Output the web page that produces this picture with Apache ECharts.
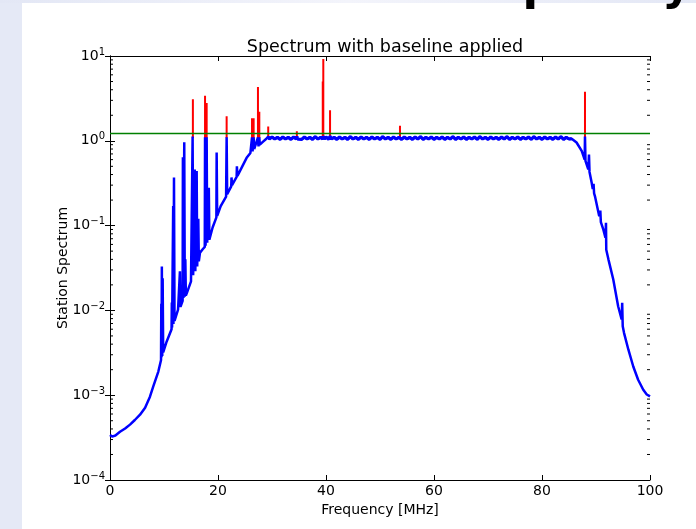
<!DOCTYPE html>
<html><head><meta charset="utf-8">
<script src="https://cdn.jsdelivr.net/npm/echarts@6/dist/echarts.min.js"></script>
<style>html,body{margin:0;padding:0;background:#fff}#c{width:696px;height:529px}</style>
</head><body><div id="c"></div><script>
// ---- data ----
const xTicks = [0, 20, 40, 60, 80, 100];
const yExponents = [-4, -3, -2, -1, 0, 1];
const threshold = 1.22;

const blueFreq = [
 0, 0.4, 1.0, 1.85, 2.8, 3.7, 4.6, 5.56, 6.5, 7.4, 8.0, 8.95, 9.45, 9.5, 9.55, 9.6, 9.68, 9.75, 9.85,
 10.5, 11.4, 11.45, 11.5, 11.7, 11.75, 11.85, 11.95, 12.6, 12.95, 13.05, 13.45, 13.5, 13.6, 13.75, 13.85,
 13.95, 14.05, 14.26, 15.0, 15.3, 15.4, 15.7, 15.8, 16.05, 16.15, 16.35, 16.45, 16.67, 17.2, 17.55, 17.6,
 17.7, 17.9, 18.0, 18.3, 18.4, 19.0, 19.7, 19.75, 19.85, 20.5, 21.5, 21.6, 21.7, 22.45, 22.5, 22.6, 23.45,
 23.5, 23.6, 24.5, 25.3, 26.0, 26.3, 26.4, 26.6, 26.7, 27.0, 27.4, 27.5, 27.65, 27.75, 28.3, 28.9, 29.3,
 29.5, 30.0, 30.5, 31.0, 31.5, 32.0, 32.5, 33.0, 33.5, 34.0, 34.5, 34.6, 34.7, 35.0, 35.5, 36.0, 36.5,
 37.0, 37.5, 38.0, 38.5, 39.0, 39.4, 39.5, 39.7, 40.0, 40.5, 40.75, 41.0, 41.5, 42.0, 42.5, 43.0, 43.5,
 44.0, 44.5, 45.0, 45.5, 46.0, 46.5, 47.0, 47.5, 48.0, 48.5, 49.0, 49.5, 50.0, 50.5, 51.0, 51.5, 52.0,
 52.5, 53.0, 53.5, 53.7, 54.0, 54.5, 55.0, 55.5, 56.0, 56.5, 57.0, 57.5, 58.0, 58.5, 59.0, 59.5, 60.0,
 60.5, 61.0, 61.5, 62.0, 62.5, 63.0, 63.5, 64.0, 64.5, 65.0, 65.5, 66.0, 66.5, 67.0, 67.5, 68.0, 68.5,
 69.0, 69.5, 70.0, 70.5, 71.0, 71.5, 72.0, 72.5, 73.0, 73.5, 74.0, 74.5, 75.0, 75.5, 76.0, 76.5, 77.0,
 77.5, 78.0, 78.5, 79.0, 79.5, 80.0, 80.5, 81.0, 81.5, 82.0, 82.5, 83.0, 83.5, 84.0, 84.5, 85.0, 85.5,
 86.4, 87.35, 87.9, 87.96, 88.05, 88.57, 88.7, 88.8, 89.2, 89.4, 89.55, 89.65, 89.8, 90.6, 90.8, 90.9,
 91.35, 91.75, 91.85, 91.9, 92.3, 93.2, 94.1, 94.75, 94.85, 94.95, 95.2, 96.0, 96.9, 97.8, 98.75, 99.4, 100
];
const blueVals = [
 3.4e-4, 3.25e-4, 3.35e-4, 3.7e-4, 4.05e-4, 4.5e-4, 5.1e-4, 5.9e-4, 7.1e-4, 9.6e-4, 1.26e-3, 1.9e-3, 2.6e-3, 0.012, 2.8e-3, 0.033, 2.9e-3, 0.024, 3.2e-3,
 4.3e-3, 6.0e-3, 0.0124, 6.3e-3, 0.17, 6.9e-3, 0.37, 7.5e-3, 0.0102, 0.029, 0.011, 0.013, 0.64, 0.014, 0.96, 0.0145,
 0.04, 0.015, 0.0162, 0.022, 1.12, 0.026, 0.46, 0.029, 0.44, 0.033, 0.12, 0.038, 0.048, 0.053, 0.056, 1.1,
 0.058, 1.1, 0.063, 0.28, 0.068, 0.095, 0.125, 0.73, 0.13, 0.17, 0.22, 1.1, 0.235, 0.29, 0.37, 0.3, 0.375,
 0.5, 0.385, 0.5, 0.63, 0.72, 1.1, 0.75, 1.1, 0.8, 0.83, 1.1, 0.86, 1.1, 0.9, 0.97, 1.05, 1.12,
 1.05, 1.11, 1.05, 1.10, 1.04, 1.11, 1.05, 1.10, 1.04, 1.11, 1.05, 1.13, 1.05, 1.10, 1.04, 1.11, 1.05,
 1.10, 1.04, 1.12, 1.05, 1.10, 1.05, 1.13, 1.05, 1.11, 1.04, 1.13, 1.05, 1.10, 1.04, 1.11, 1.05, 1.10,
 1.04, 1.12, 1.05, 1.10, 1.04, 1.11, 1.05, 1.10, 1.04, 1.11, 1.05, 1.10, 1.04, 1.12, 1.05, 1.10, 1.04,
 1.11, 1.05, 1.10, 1.13, 1.04, 1.11, 1.05, 1.10, 1.04, 1.11, 1.05, 1.12, 1.04, 1.10, 1.05, 1.11, 1.04,
 1.10, 1.05, 1.11, 1.04, 1.10, 1.05, 1.12, 1.04, 1.10, 1.05, 1.11, 1.04, 1.10, 1.05, 1.11, 1.04, 1.12,
 1.05, 1.10, 1.04, 1.11, 1.05, 1.10, 1.04, 1.11, 1.05, 1.12, 1.04, 1.10, 1.05, 1.11, 1.04, 1.10, 1.05,
 1.11, 1.04, 1.12, 1.05, 1.10, 1.04, 1.11, 1.05, 1.10, 1.04, 1.11, 1.05, 1.12, 1.04, 1.10, 1.05, 1.06,
 0.955, 0.76, 0.6, 1.12, 0.58, 0.46, 0.69, 0.43, 0.32, 0.27, 0.31, 0.24, 0.223, 0.129, 0.15, 0.11,
 0.09, 0.072, 0.108, 0.052, 0.040, 0.0231, 0.0112, 0.0078, 0.0123, 0.0065, 0.0054, 0.00344, 0.00218, 0.00152, 0.00116, 0.00102, 0.00097
];
// frequency range of the noisy flat plateau (drawn with a thicker stroke)
const plateauRange = [29.3, 85.5];

// red: original spectrum peaks that exceed the clipped (blue) spectrum
const redFreq  = [15.35, 17.6, 17.9, 21.6, 26.3, 26.6, 27.4, 27.65, 29.3, 34.6, 39.4, 39.5, 40.75, 53.7, 87.96];
const redPeaks = [3.1,   3.4,  2.8,  1.95, 1.85, 1.85, 4.3,  2.2,   1.47, 1.3,  5.0,  9.2,  2.3,   1.5,  3.8];
const redBase = 1.08;

// ---- build chart ----
const FONT = "'DejaVu Sans', sans-serif";
const blueData = blueFreq.map((f, i) => [f, blueVals[i]]);
const plateauData = blueData.filter(d => d[0] >= plateauRange[0] && d[0] <= plateauRange[1]);
const redData = [];
redFreq.forEach((f, i) => { redData.push([f, redBase], [f, redPeaks[i]], [f, '-']); });
const minorVals = [];
for (let e = yExponents[0]; e < yExponents[yExponents.length - 1]; e++)
  for (let m = 2; m <= 9; m++) minorVals.push(m * Math.pow(10, e));

const chart = echarts.init(document.getElementById('c'), null, {renderer: 'canvas'});
const axisLineStyle = {lineStyle: {color: '#000', width: 1}};
const expLabel = v => {
  const e = Math.round(Math.log10(v));
  if (yExponents.indexOf(e) < 0) return '';
  return '{b|10}{s|' + (e < 0 ? '\u2212' + (-e) : e) + '}';
};
const option = {
  animation: false,
  backgroundColor: '#ffffff',
  textStyle: {fontFamily: FONT},
  graphic: [
    {type: 'rect', left: 0, top: 0, shape: {width: 22, height: 529}, style: {fill: '#e5e9f6'}, z: 100},
    {type: 'rect', left: 0, top: 0, shape: {width: 696, height: 3},
     style: {fill: new echarts.graphic.LinearGradient(0, 0, 1, 0, [
       {offset: 0, color: '#e3e7f5'}, {offset: 0.5, color: '#f3f4fb'}, {offset: 1, color: '#e3e7f5'}])}, z: 100},
    {type: 'text', right: 4, top: -36, style: {text: 'Frequency', font: 'bold 46px ' + FONT, fill: '#000'}, z: 101}
  ],
  title: {
    text: 'Spectrum with baseline applied', left: 380, top: 33, textAlign: 'center',
    textStyle: {fontSize: 17.5, fontWeight: 'normal', color: '#000', fontFamily: FONT}
  },
  grid: {left: 110, right: 46, top: 56, bottom: 49, containLabel: false},
  xAxis: [
    {type: 'value', min: xTicks[0], max: xTicks[xTicks.length - 1], interval: xTicks[1] - xTicks[0], position: 'bottom',
     name: 'Frequency [MHz]', nameLocation: 'middle', nameGap: 22,
     nameTextStyle: {fontSize: 14, color: '#000', fontFamily: FONT},
     axisLine: axisLineStyle, axisTick: {inside: true, length: 5, lineStyle: {color: '#000'}},
     axisLabel: {fontSize: 14, color: '#000', margin: 4, fontFamily: FONT}, splitLine: {show: false}},
    {type: 'value', min: xTicks[0], max: xTicks[xTicks.length - 1], interval: xTicks[1] - xTicks[0], position: 'top',
     axisLine: axisLineStyle, axisTick: {inside: true, length: 5, lineStyle: {color: '#000'}},
     axisLabel: {show: false}, splitLine: {show: false}}
  ],
  yAxis: [
    {type: 'log', logBase: 10, min: Math.pow(10, yExponents[0]), max: Math.pow(10, yExponents[yExponents.length - 1]),
     splitNumber: 5, position: 'left',
     name: 'Station Spectrum', nameLocation: 'middle', nameGap: 40, nameMoveOverlap: false,
     nameTextStyle: {fontSize: 14, color: '#000', fontFamily: FONT},
     axisLine: {show: true, lineStyle: {color: '#000', width: 1}},
     axisTick: {inside: true, length: 5, lineStyle: {color: '#000'}},
     axisLabel: {margin: 5, formatter: expLabel, rich: {
       b: {fontSize: 14, color: '#000', fontFamily: FONT},
       s: {fontSize: 10, color: '#000', fontFamily: FONT, padding: [0, 0, 8, 0]}}},
     splitLine: {show: false}},
    {type: 'log', logBase: 10, min: Math.pow(10, yExponents[0]), max: Math.pow(10, yExponents[yExponents.length - 1]),
     splitNumber: 5, position: 'right',
     axisLine: {show: true, lineStyle: {color: '#000', width: 1}},
     axisTick: {inside: true, length: 5, lineStyle: {color: '#000'}},
     axisLabel: {show: false}, splitLine: {show: false}}
  ],
  series: [
    {name: 'original', type: 'line', xAxisIndex: 0, yAxisIndex: 0, data: redData, symbol: 'none', showSymbol: false,
     connectNulls: false, lineStyle: {color: '#ff0000', width: 2}, itemStyle: {color: '#ff0000'}, z: 2, silent: true},
    {name: 'clipped', type: 'line', xAxisIndex: 0, yAxisIndex: 0, data: blueData, symbol: 'none', showSymbol: false,
     lineStyle: {color: '#0000ff', width: 2.5}, itemStyle: {color: '#0000ff'}, z: 3, silent: true},
    {name: 'clipped plateau', type: 'line', xAxisIndex: 0, yAxisIndex: 0, data: plateauData, symbol: 'none', showSymbol: false,
     lineStyle: {color: '#0000ff', width: 3.2}, itemStyle: {color: '#0000ff'}, z: 3, silent: true},
    {name: 'threshold', type: 'line', xAxisIndex: 0, yAxisIndex: 0,
     data: [[xTicks[0], threshold], [xTicks[xTicks.length - 1], threshold]], symbol: 'none', showSymbol: false,
     lineStyle: {color: '#008000', width: 1.5}, itemStyle: {color: '#008000'}, z: 4, silent: true},
    {name: 'minorTicks', type: 'custom', xAxisIndex: 0, yAxisIndex: 0, silent: true, z: 6, clip: false,
     data: minorVals.map(v => [xTicks[0], v]),
     renderItem: (params, api) => {
       const v = api.value(1);
       const a = api.coord([xTicks[0], v]);
       const b = api.coord([xTicks[xTicks.length - 1], v]);
       return {type: 'group', children: [
         {type: 'line', shape: {x1: a[0], y1: a[1], x2: a[0] + 3, y2: a[1]}, style: {stroke: '#000', lineWidth: 1}},
         {type: 'line', shape: {x1: b[0] - 3, y1: b[1], x2: b[0], y2: b[1]}, style: {stroke: '#000', lineWidth: 1}}
       ]};
     }}
  ]
};
chart.setOption(option);
</script></body></html>
